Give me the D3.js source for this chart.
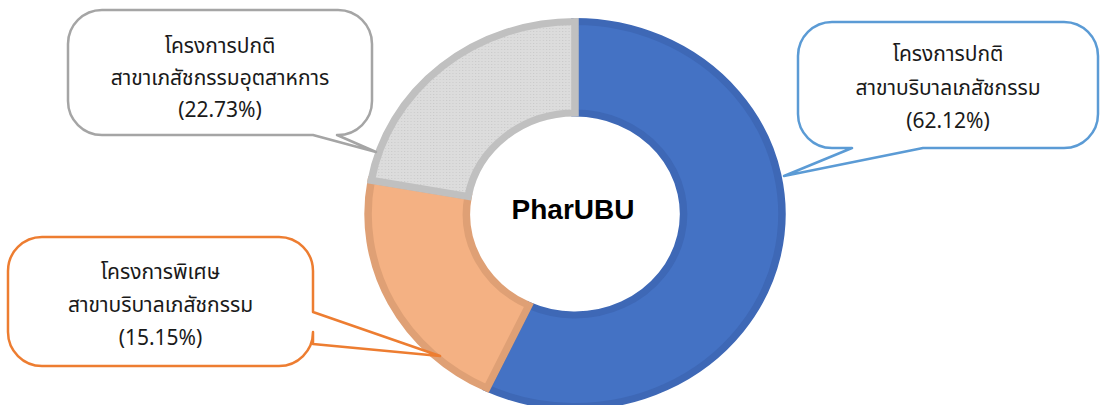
<!DOCTYPE html>
<html>
<head>
<meta charset="utf-8">
<script src="https://cdn.jsdelivr.net/npm/d3@7"></script>
<style>
    body { margin: 0; background: #fff; }
    svg { display: block; }
    .callout-text { font-family: "Noto Sans Thai", Tahoma, "Leelawadee UI", "Noto Sans", "DejaVu Sans", sans-serif; font-size: 21px; fill: #1a1a1a; text-anchor: middle; }
</style>
</head>
<body>
<svg id="chart"></svg>
<script>
// Data
const programs = ["โครงการปกติ", "โครงการพิเศษ", "โครงการปกติ"];
const majors = ["สาขาบริบาลเภสัชกรรม", "สาขาบริบาลเภสัชกรรม", "สาขาเภสัชกรรมอุตสาหการ"];
const percentLabels = ["62.12%", "15.15%", "22.73%"];
// slice sizes as drawn in the picture (they don't quite follow the labels)
const sliceValues = [57.0, 20.8, 22.2];
const centerTitle = "PharUBU";

// Styles
const fills = ["#4472C4", "#F4B183", "#D9D9D9"];
const borders = ["#3E68B6", "#DFA075", "#C0C0C0"];
const calloutColors = ["#5B9BD5", "#ED7D31", "#A5A5A5"];

const width = 1100, height = 405;
const cx = 575, cy = 214;

const svg = d3.select('#chart')
    .attr('width', width)
    .attr('height', height);

// dotted texture for the grey slice
const defs = svg.append('defs');
const pat = defs.append('pattern')
    .attr('id', 'dots')
    .attr('width', 3).attr('height', 3)
    .attr('patternUnits', 'userSpaceOnUse');
pat.append('rect').attr('width', 3).attr('height', 3).attr('fill', '#DCDCDC');
pat.append('rect').attr('width', 1).attr('height', 1).attr('fill', '#CACACA');

const pie = d3.pie().sort(null).value(d => d);
const arcs = pie(sliceValues);

const arc = d3.arc()
    .innerRadius(101)
    .outerRadius(192.5);

const g = svg.append('g')
    .attr('transform', `translate(${cx},${cy}) scale(1.075,1)`);

g.selectAll('path')
    .data(arcs)
    .join('path')
    .attr('d', arc)
    .attr('fill', (d, i) => i === 2 ? 'url(#dots)' : fills[i])
    .attr('stroke', (d, i) => borders[i])
    .attr('stroke-width', 7)
    .attr('stroke-linejoin', 'miter');

svg.append('text')
    .attr('x', cx - 2)
    .attr('y', 219)
    .attr('text-anchor', 'middle')
    .style('font-family', 'Arial, "Liberation Sans", sans-serif')
    .style('font-weight', 'bold')
    .style('font-size', '28px')
    .text(centerTitle);

// Callout boxes: rounded rect with a wedge tail
function calloutPath(b) {
    const { x, y, w, h, r, side, a, c, tip } = b;
    const p = d3.path();
    p.moveTo(x + r, y);
    p.lineTo(x + w - r, y);
    p.arcTo(x + w, y, x + w, y + r, r);
    if (side === 'right') {
        p.lineTo(x + w, a);
        p.lineTo(tip[0], tip[1]);
        p.lineTo(x + w, c);
    }
    p.lineTo(x + w, y + h - r);
    p.arcTo(x + w, y + h, x + w - r, y + h, r);
    if (side === 'bottom') {
        p.lineTo(c, y + h);
        p.lineTo(tip[0], tip[1]);
        p.lineTo(a, y + h);
    }
    p.lineTo(x + r, y + h);
    p.arcTo(x, y + h, x, y + h - r, r);
    p.lineTo(x, y + r);
    p.arcTo(x, y, x + r, y, r);
    p.closePath();
    return p.toString();
}

// one box per slice, same order as the data
const boxes = [
    { x: 798, y: 22, w: 300, h: 126, r: 34, side: 'bottom', a: 852, c: 923, tip: [784, 176], lines: [54, 88, 121] },
    { x: 8, y: 237, w: 305, h: 129, r: 34, side: 'right', a: 312, c: 344, tip: [440, 356], lines: [272, 305, 338] },
    { x: 68, y: 10, w: 304, h: 125, r: 34, side: 'bottom', a: 313, c: 337, tip: [376, 152], lines: [46, 78, 110] }
];

const callouts = svg.append('g')
    .selectAll('g')
    .data(percentLabels.map((v, i) => ({ v, i, b: boxes[i] })))
    .join('g');

callouts.append('path')
    .attr('d', d => calloutPath(d.b))
    .attr('fill', '#fff')
    .attr('stroke', d => calloutColors[d.i])
    .attr('stroke-width', 2.5)
    .attr('stroke-linejoin', 'round');

callouts.each(function (d) {
    const sel = d3.select(this);
    const tx = d.b.x + d.b.w / 2;
    const texts = [programs[d.i], majors[d.i], `(${d.v})`];
    texts.forEach((t, k) => {
        sel.append('text')
            .attr('class', 'callout-text')
            .attr('x', tx)
            .attr('y', d.b.lines[k])
            .attr('dy', '0.35em')
            .text(t);
    });
});
</script>
</body>
</html>
